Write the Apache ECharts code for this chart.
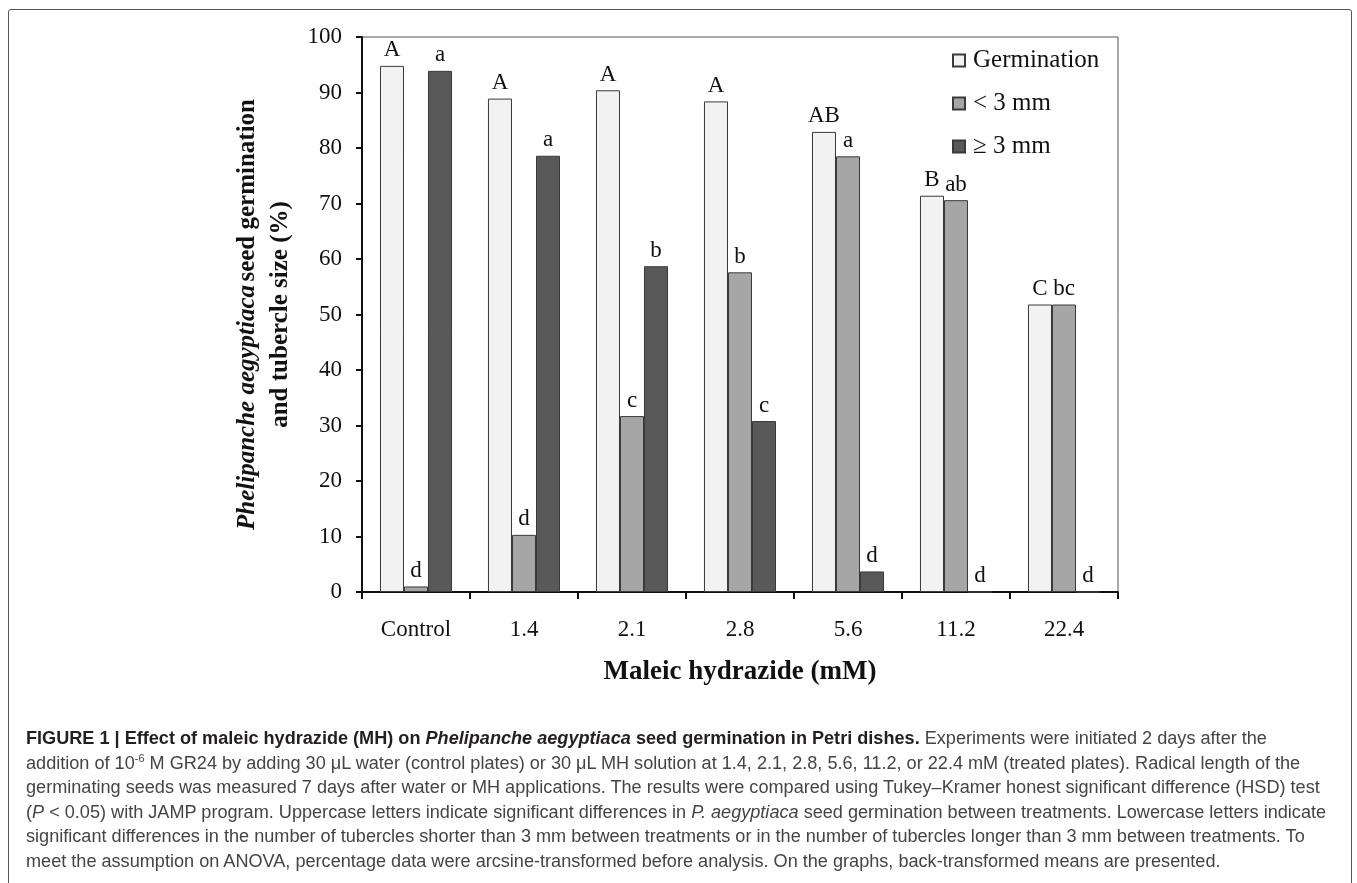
<!DOCTYPE html>
<html>
<head>
<meta charset="utf-8">
<script src="https://cdn.jsdelivr.net/npm/echarts@6/dist/echarts.min.js"></script>
<style>
  html, body { margin: 0; padding: 0; background: #fff; }
  #wrap { position: relative; width: 1357px; height: 883px; overflow: hidden; }
  #chart { position: absolute; left: 0; top: 0; width: 1357px; height: 883px; }
  #frame { position: absolute; left: 8px; top: 9px; width: 1344px; height: 900px;
    border: 1.5px solid #555; border-radius: 3px; box-sizing: border-box; }
  #caption { position: absolute; left: 26px; top: 726px; font-family: "Liberation Sans", Arial, sans-serif;
    font-size: 16px; line-height: 24.6px; color: #444; white-space: nowrap; }
  #caption b { color: #231f20; }
  #caption sup { font-size: 11px; line-height: 0; }
</style>
</head>
<body>
<div id="wrap">
  <div id="frame"></div>
  <div id="chart"></div>
  <div id="caption">
    <div><b>FIGURE 1 | Effect of maleic hydrazide (MH) on <i>Phelipanche aegyptiaca</i> seed germination in Petri dishes.</b> Experiments were initiated 2 days after the</div>
    <div>addition of 10<sup>-6</sup> M GR24 by adding 30 &mu;L water (control plates) or 30 &mu;L MH solution at 1.4, 2.1, 2.8, 5.6, 11.2, or 22.4 mM (treated plates). Radical length of the</div>
    <div>germinating seeds was measured 7 days after water or MH applications. The results were compared using Tukey&ndash;Kramer honest significant difference (HSD) test</div>
    <div>(<i>P</i> &lt; 0.05) with JAMP program. Uppercase letters indicate significant differences in <i>P. aegyptiaca</i> seed germination between treatments. Lowercase letters indicate</div>
    <div>significant differences in the number of tubercles shorter than 3 mm between treatments or in the number of tubercles longer than 3 mm between treatments. To</div>
    <div>meet the assumption on ANOVA, percentage data were arcsine-transformed before analysis. On the graphs, back-transformed means are presented.</div>
  </div>
</div>
<script>
// data
const categories = ['Control', '1.4', '2.1', '2.8', '5.6', '11.2', '22.4']
const germination = [94.8, 88.9, 90.4, 88.4, 82.9, 71.4, 51.8]
const small = [1.0, 10.3, 31.7, 57.6, 78.5, 70.6, 51.8]
const large = [93.9, 78.6, 58.7, 30.8, 3.7, 0, 0]
// significance letters
const germLetters = ['A', 'A', 'A', 'A', 'AB', 'B', 'C']
const smallLetters = ['d', 'd', 'c', 'b', 'a', 'ab', 'bc']
const largeLetters = ['a', 'a', 'b', 'c', 'd', 'd', 'd']

const serif = '"Liberation Serif", "Times New Roman", serif'

// fit caption width to the reference
;(function fitCaption() {
  const cap = document.getElementById('caption')
  const line = cap.children[1]
  const w = line.getBoundingClientRect().width
  const target = 1301
  if (w > 0) cap.style.fontSize = (16 * target / w).toFixed(2) + 'px'
})()

function makeSeries(name, values, letters, color) {
  return {
    name: name,
    type: 'bar',
    data: values,
    barGap: '0%',
    barCategoryGap: '33.3%',
    itemStyle: { color: color, borderColor: '#3a3a3a', borderWidth: 1 },
    label: {
      show: true,
      position: 'top',
      distance: 4,
      color: '#111',
      fontFamily: serif,
      fontSize: 23,
      formatter: (p) => letters[p.dataIndex]
    },
    emphasis: { disabled: true }
  }
}

const chart = echarts.init(document.getElementById('chart'), null, { renderer: 'canvas' })
chart.setOption({
  animation: false,
  backgroundColor: 'transparent',
  grid: {
    left: 362, top: 37, width: 756, height: 555,
    show: true, borderColor: '#555', borderWidth: 1
  },
  legend: {
    orient: 'vertical',
    left: 952,
    top: 48,
    padding: 0,
    itemWidth: 12,
    itemHeight: 12,
    itemGap: 18,
    icon: 'rect',
    textStyle: { fontFamily: serif, fontSize: 25, color: '#111', padding: [0, 0, 0, 3] },
    data: ['Germination', '< 3 mm', '\u2265 3 mm']
  },
  xAxis: {
    type: 'category',
    data: categories,
    name: 'Maleic hydrazide (mM)',
    nameLocation: 'middle',
    nameGap: 67,
    nameTextStyle: { fontFamily: serif, fontSize: 27, fontWeight: 'bold', color: '#111' },
    axisLine: { lineStyle: { color: '#111', width: 2 } },
    axisTick: { show: true, length: 7, lineStyle: { color: '#111', width: 2 } },
    axisLabel: { fontFamily: serif, fontSize: 23, color: '#111', margin: 26 }
  },
  yAxis: {
    type: 'value',
    min: 0,
    max: 100,
    interval: 10,
    name: '{i|Phelipanche aegyptiaca} {b|seed germination}\n{b|and tubercle size (%)}',
    nameLocation: 'middle',
    nameGap: 53,
    nameTextStyle: {
      align: 'center',
      lineHeight: 33,
      rich: {
        i: { fontFamily: serif, fontSize: 25, fontWeight: 'bold', fontStyle: 'italic', color: '#111', lineHeight: 33 },
        b: { fontFamily: serif, fontSize: 25, fontWeight: 'bold', color: '#111', lineHeight: 33 }
      }
    },
    splitLine: { show: false },
    axisLine: { show: true, lineStyle: { color: '#111', width: 2 } },
    axisTick: { show: true, length: 6, lineStyle: { color: '#111', width: 2 } },
    axisLabel: { fontFamily: serif, fontSize: 23, color: '#111', margin: 20 }
  },
  series: [
    makeSeries('Germination', germination, germLetters, '#f2f2f2'),
    makeSeries('< 3 mm', small, smallLetters, '#a6a6a6'),
    makeSeries('\u2265 3 mm', large, largeLetters, '#595959')
  ]
})
</script>
</body>
</html>
